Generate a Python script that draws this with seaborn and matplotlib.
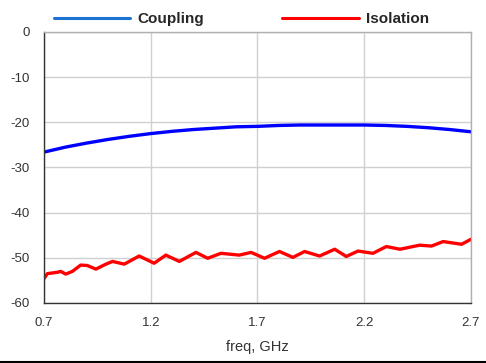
import numpy as np
import pandas as pd
import matplotlib
matplotlib.use("Agg")
import matplotlib.pyplot as plt
from matplotlib.lines import Line2D
from matplotlib.ticker import MultipleLocator
import seaborn as sns

# Coupling (S-param, dB) vs frequency
coup_freq = [0.7, 0.8, 0.9, 1.0, 1.1, 1.2, 1.3, 1.4, 1.5, 1.6, 1.7,
             1.8, 1.9, 2.0, 2.1, 2.2, 2.3, 2.4, 2.5, 2.6, 2.7]
coup_db = [-26.6, -25.5, -24.6, -23.8, -23.1, -22.5, -22.0, -21.6, -21.3, -21.0, -20.9,
           -20.7, -20.6, -20.6, -20.6, -20.6, -20.7, -20.9, -21.2, -21.6, -22.1]

# Isolation (dB) vs frequency
iso_freq = [0.700, 0.716, 0.763, 0.778, 0.802, 0.833, 0.872, 0.903, 0.943, 0.990,
            1.021, 1.076, 1.146, 1.216, 1.271, 1.334, 1.412, 1.467, 1.529, 1.615,
            1.670, 1.733, 1.803, 1.866, 1.921, 1.991, 2.062, 2.116, 2.171, 2.241,
            2.304, 2.367, 2.460, 2.515, 2.570, 2.656, 2.700]
iso_db = [-54.6, -53.5, -53.2, -53.0, -53.6, -53.0, -51.6, -51.7, -52.5, -51.4,
          -50.8, -51.4, -49.6, -51.2, -49.4, -50.8, -48.8, -50.1, -49.0, -49.4,
          -48.8, -50.1, -48.6, -49.9, -48.6, -49.6, -48.1, -49.7, -48.5, -49.0,
          -47.5, -48.1, -47.2, -47.4, -46.4, -47.0, -45.9]

x_ticks = [0.7, 1.2, 1.7, 2.2, 2.7]
y_ticks = [0, -10, -20, -30, -40, -50, -60]

sns.set_style("white")
plt.rcParams['font.family'] = ['Liberation Sans', 'DejaVu Sans']

fig = plt.figure(figsize=(4.86, 3.63), dpi=100)
ax = fig.add_axes([0.0905, 0.1653, 0.8785, 0.7467])

sns.lineplot(x=coup_freq, y=coup_db, ax=ax, color='#0000ff', linewidth=2.4)
sns.lineplot(x=iso_freq, y=iso_db, ax=ax, color='#ff0000', linewidth=2.4)

ax.set_xlim(0.7, 2.7)
ax.set_ylim(-60, 0)
ax.set_xticks(x_ticks)
ax.set_xticklabels([str(t) for t in x_ticks])
ax.set_yticks(y_ticks)
ax.set_yticklabels([str(t) for t in y_ticks])
ax.xaxis.set_minor_locator(MultipleLocator(0.1))
ax.yaxis.set_minor_locator(MultipleLocator(5))
ax.grid(True, which='major', color='#d0d0d0', linewidth=1.0)
ax.tick_params(axis='both', which='major', labelsize=9.5, colors='#333333',
               length=7, width=0.8, direction='out')
ax.tick_params(axis='both', which='minor', length=4, width=0.8, colors='#333333',
               direction='out')
ax.tick_params(axis='both', labelcolor='#333333', pad=3)

for side in ['left', 'bottom']:
    ax.spines[side].set_color('#333333')
    ax.spines[side].set_linewidth(1.0)
for side in ['top', 'right']:
    ax.spines[side].set_color('#b0b0b0')
    ax.spines[side].set_linewidth(1.0)

ax.set_xlabel('freq, GHz', fontsize=10.5, color='#333333', labelpad=8)
ax.set_ylabel('')

# custom legend at the top
handles = [Line2D([], [], color='#1a73d0', linewidth=2.2),
           Line2D([], [], color='#ff0000', linewidth=2.2)]
fig.legend(handles, ['Coupling', 'Isolation'], loc='upper center',
           bbox_to_anchor=(0.497, 1.005), ncol=2, frameon=False,
           handlelength=5.0, columnspacing=5.1, handletextpad=0.5,
           prop={'weight': 'bold', 'size': 11})

# bottom border line of the image
fig.add_artist(Line2D([0, 1], [0.004, 0.004], transform=fig.transFigure,
                      color='black', linewidth=1.5))

fig.savefig('out.png', dpi=100)
